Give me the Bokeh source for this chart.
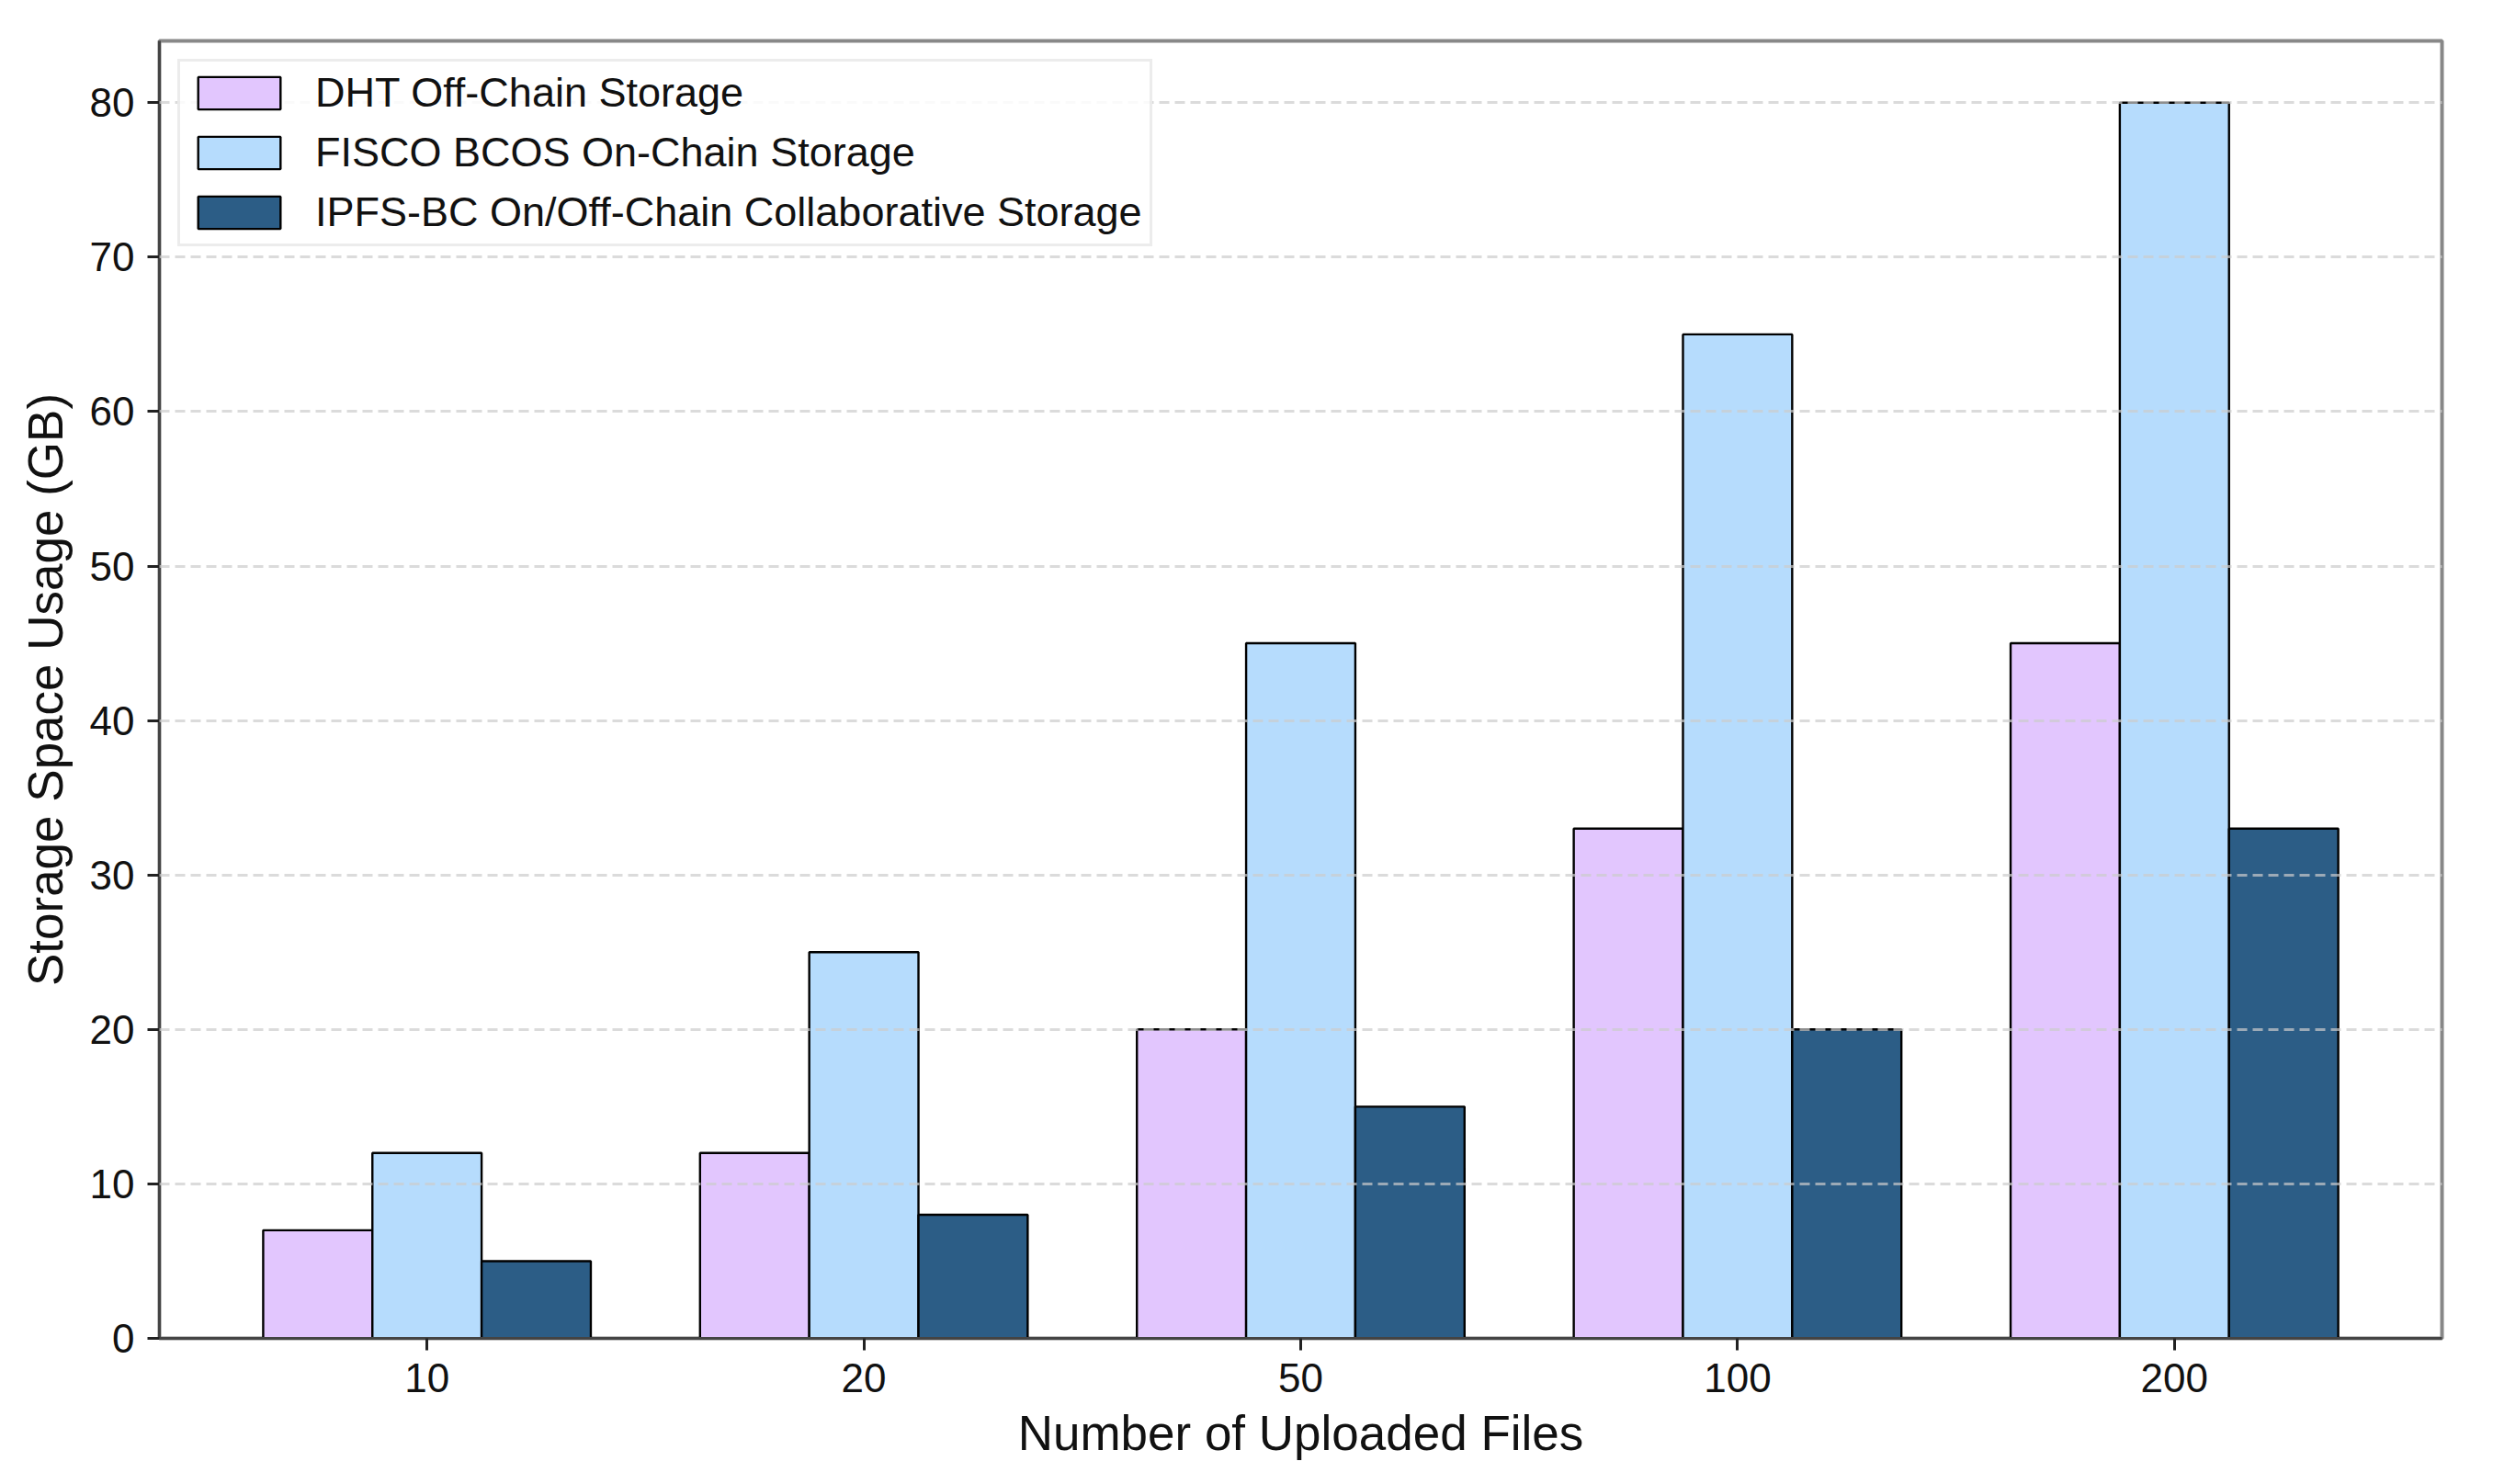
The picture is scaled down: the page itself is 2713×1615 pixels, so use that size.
from bokeh.plotting import figure
from bokeh.models import ColumnDataSource, FactorRange, Range1d, SingleIntervalTicker, Legend, LegendItem
from bokeh.transform import dodge
from bokeh.embed import file_html
from bokeh.resources import INLINE

# ---- data ----
file_counts = ["10", "20", "50", "100", "200"]
dht_offchain = [7, 12, 20, 33, 45]
fisco_onchain = [12, 25, 45, 65, 80]
ipfs_bc = [5, 8, 15, 20, 33]
series_names = [
    "DHT Off-Chain Storage",
    "FISCO BCOS On-Chain Storage",
    "IPFS-BC On/Off-Chain Collaborative Storage",
]
series_colors = ["#e2c6fe", "#b6dcfd", "#2c5d86"]

FONT = "Liberation Sans"

src = ColumnDataSource(dict(cat=file_counts, dht=dht_offchain, fisco=fisco_onchain, ipfs=ipfs_bc))

p = figure(
    width=2697, height=1599,
    x_range=FactorRange(factors=file_counts, range_padding=0.045),
    y_range=Range1d(0, 84),
    output_backend="svg", toolbar_location=None,
    min_border_left=173, min_border_right=40, min_border_top=44, min_border_bottom=143,
)

offsets = [-0.25, 0.0, 0.25]
cols = ["dht", "fisco", "ipfs"]
renderers = []
for col, off, color in zip(cols, offsets, series_colors):
    r = p.vbar(x=dodge("cat", off, range=p.x_range), top=col, width=0.25, source=src,
               fill_color=color, line_color="black", line_width=2.4)
    renderers.append(r)

# axes
for ax in (p.xaxis[0], p.yaxis[0]):
    ax.axis_line_color = "#444444"
    ax.axis_line_width = 3
    ax.major_tick_line_color = "#222222"
    ax.major_tick_line_width = 3
    ax.major_tick_out = 13
    ax.major_tick_in = 0
    ax.minor_tick_line_color = None
    ax.major_label_text_font = FONT
    ax.major_label_text_font_size = "44px"
    ax.major_label_text_color = "#111111"
    ax.major_label_standoff = 14
    ax.axis_label_text_font = FONT
    ax.axis_label_text_font_size = "53px"
    ax.axis_label_text_font_style = "normal"
    ax.axis_label_text_color = "#111111"

p.yaxis.ticker = SingleIntervalTicker(interval=10)
p.xaxis.axis_label = "Number of Uploaded Files"
p.yaxis.axis_label = "Storage Space Usage (GB)"
p.xaxis.axis_label_standoff = 12
p.yaxis.axis_label_standoff = 16
p.xaxis.major_label_orientation = "horizontal"

# grid
p.xgrid.grid_line_color = None
p.ygrid.grid_line_color = "#cccccc"
p.ygrid.grid_line_alpha = 0.7
p.ygrid.grid_line_width = 3
p.ygrid.grid_line_dash = "11 6"
p.ygrid.level = "overlay"

p.outline_line_color = "#888888"
p.outline_line_width = 4
p.background_fill_color = "white"
p.border_fill_color = "white"

legend = Legend(
    items=[LegendItem(label=n, renderers=[r]) for n, r in zip(series_names, renderers)],
    location="top_left",
    margin=20, padding=8, spacing=13,
    glyph_width=112, glyph_height=44, label_standoff=27, label_height=52,
    label_text_font=FONT, label_text_font_size="45px", label_text_color="#111111",
    border_line_color="#dadada", border_line_width=3,
    background_fill_color="white", background_fill_alpha=0.85,
)
p.add_layout(legend)

open("out.html", "w").write(file_html(p, INLINE))
